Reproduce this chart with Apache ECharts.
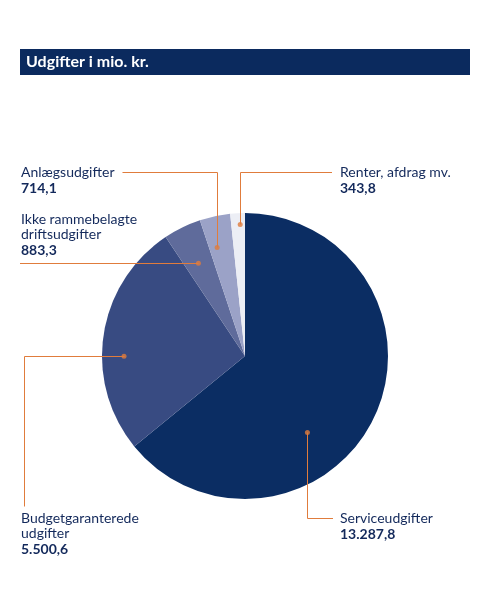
<!DOCTYPE html>
<html><head><meta charset="utf-8">
<script src="https://cdn.jsdelivr.net/npm/echarts@6/dist/echarts.min.js"></script>
<style>html,body{margin:0;padding:0;background:#fff}#c{width:483px;height:599px}</style>
</head><body><div id="c"></div>
<script>
// ---- data ----
const titleText = 'Udgifter i mio. kr.';
const categories = ['Serviceudgifter', 'Budgetgaranterede\nudgifter', 'Ikke rammebelagte\ndriftsudgifter', 'Anlægsudgifter', 'Renter, afdrag mv.'];
const values = [13287.8, 5500.6, 883.3, 714.1, 343.8];

// ---- style / layout ----
const sliceColors = ['#0b2d63', '#384b82', '#5f6b9b', '#9ba2c7', '#eceef5'];
const textColor = '#13295b';
const accent = '#e07c3c';
const CX = 245, CY = 356, R = 143;
const dotAngleFrac = [0.61, 0.41, 0.46, 0.32, 0.65];
const dotRadiusFrac = [0.69, 0.846, 0.726, 0.783, 0.92];
const labelPos = [[340, 510.5], [21, 510.5], [21, 211.5], [21, 164.5], [340, 164.5]];
const NAME_LH = 15, VAL_LH = 18;

const total = values.reduce((a, b) => a + b, 0);
const cum = values.map((v, i) => values.slice(0, i).reduce((a, b) => a + b, 0));
const dotAngleVal = values.map((v, i) => cum[i] + dotAngleFrac[i] * v);

function dotPixel(i) {
  const th = dotAngleVal[i] / total * 2 * Math.PI;
  const r = dotRadiusFrac[i] * R;
  return [CX + r * Math.sin(th), CY - r * Math.cos(th)];
}
function px(v) { return Math.round(v - 0.5) + 0.5; }
function fmt(v) {
  const parts = v.toFixed(1).split('.');
  return parts[0].replace(/\B(?=(\d{3})+(?!\d))/g, '.') + ',' + parts[1];
}
const pieData = categories.map((c, i) => ({ name: c, value: values[i], itemStyle: { color: sliceColors[i] } }));

const chart = echarts.init(document.getElementById('c'));
chart.setOption({
  animation: false,
  title: {
    text: titleText,
    left: 20, top: 49,
    padding: [4, 6],
    backgroundColor: '#0b2a5e',
    textStyle: { color: '#fff', fontFamily: 'Lato', fontWeight: 'bold', fontSize: 16, lineHeight: 18, width: 438 }
  },
  polar: { center: [CX, CY], radius: R },
  angleAxis: { type: 'value', min: 0, max: total, startAngle: 90, clockwise: true, show: false },
  radiusAxis: { type: 'value', min: 0, max: 1, show: false },
  series: [{
    type: 'pie',
    z: 2,
    center: [CX, CY],
    radius: R,
    startAngle: 90,
    clockwise: true,
    silent: true,
    emphasis: { disabled: true },
    data: pieData,
    label: { show: false },
    labelLine: { show: false }
  }, {
    // transparent overlay carrying the labels and leader lines above the slices
    type: 'pie',
    z: 4,
    center: [CX, CY],
    radius: R,
    startAngle: 90,
    clockwise: true,
    silent: true,
    avoidLabelOverlap: false,
    emphasis: { disabled: true },
    itemStyle: { color: 'rgba(0,0,0,0)' },
    data: categories.map((c, i) => ({ name: c, value: values[i] })),
    label: {
      show: true,
      position: 'outside',
      color: textColor,
      fontFamily: 'Lato',
      formatter: p => p.name.split('\n').map(s => '{n|' + s + '}').join('\n') + '\n{v|' + fmt(p.value) + '}',
      rich: {
        n: { fontFamily: 'Lato', fontSize: 14, lineHeight: NAME_LH, color: textColor },
        v: { fontFamily: 'Lato', fontSize: 14, fontWeight: 'bold', lineHeight: VAL_LH, color: textColor }
      }
    },
    labelLine: { show: true, lineStyle: { color: accent, width: 1 } },
    labelLayout: function (params) {
      const i = params.dataIndex;
      const lx = labelPos[i][0], ly = labelPos[i][1];
      const d0 = dotPixel(i);
      const d = [px(d0[0]), px(d0[1])];
      const mid = px(ly + NAME_LH / 2);
      let pts;
      if (i === 0) pts = [d, [d[0], mid], [lx - 7, mid]];
      else if (i === 1) pts = [d, [px(lx + 3), d[1]], [px(lx + 3), ly - 4]];
      else if (i === 2) pts = [[lx - 1, d[1]], d];
      else if (i === 3) pts = [[lx + params.labelRect.width + 8, mid], [d[0], mid], d];
      else pts = [[lx - 8, mid], [d[0], mid], d];
      return { x: lx, y: ly, align: 'left', verticalAlign: 'top', labelLinePoints: pts };
    }
  }, {
    type: 'scatter',
    coordinateSystem: 'polar',
    symbol: 'circle',
    symbolSize: 5,
    z: 6,
    silent: true,
    itemStyle: { color: accent },
    data: values.map((v, i) => [dotRadiusFrac[i], dotAngleVal[i]])
  }]
});
</script>
</body></html>
